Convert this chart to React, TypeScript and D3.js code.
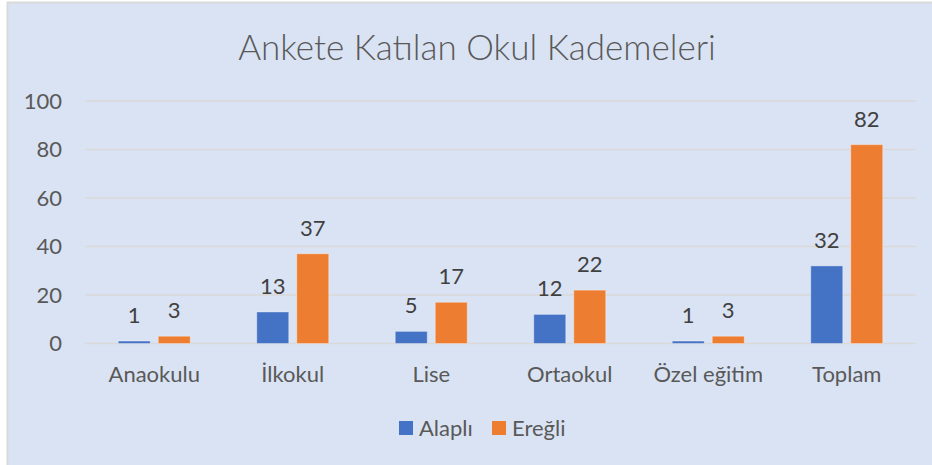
import React from "react";
import * as d3 from "d3";

const categories = ["Anaokulu", "İlkokul", "Lise", "Ortaokul", "Özel eğitim", "Toplam"];
const seriesNames = ["Alaplı", "Ereğli"];
const alapli = [1, 13, 5, 12, 1, 32];
const eregli = [3, 37, 17, 22, 3, 82];
const yTicks = [0, 20, 40, 60, 80, 100];
const colors = ["#4472c4", "#ed7d31"];
const title = "Ankete Katılan Okul Kademeleri";

const W = 932;
const H = 465;
const FONT = "Lato, 'Open Sans', sans-serif";
const TEXT = "#595959";

export default function App() {
  const x = d3.scaleBand<string>().domain(categories).range([85, 916]).paddingInner(0).paddingOuter(0);
  const y = d3.scaleLinear().domain([0, 100]).range([343.5, 101]);
  const bw = x.bandwidth();
  const xs = d3.scaleBand<string>().domain(seriesNames).range([bw / 2 - 36, bw / 2 + 36]).paddingInner(0.2).paddingOuter(0);
  const data = [alapli, eregli];

  return (
    <svg width={W} height={H} style={{ position: "absolute", left: 0, top: 0, display: "block" }} fontFamily={FONT}>
      <rect x={7.5} y={2.5} width={W + 10} height={H + 10} fill="#dae3f3" stroke="#d9d9d9" strokeWidth={2} />
      <text x={477} y={60} textAnchor="middle" fontSize={35} fontWeight={300} fill={TEXT}>{title}</text>
      {yTicks.map((t) => (
        <g key={t}>
          <line x1={85} x2={916} y1={y(t)} y2={y(t)} stroke="#d9d9d9" strokeWidth={1.5} />
          <text x={62} y={y(t)} dy="0.35em" textAnchor="end" fontSize={22} fill={TEXT}>{t}</text>
        </g>
      ))}
      {categories.map((c, i) => (
        <g key={c} transform={`translate(${x(c)},0)`}>
          {seriesNames.map((s, j) => {
            const v = data[j][i];
            const bx = xs(s)!;
            return (
              <g key={s}>
                <rect x={bx} y={y(v)} width={xs.bandwidth()} height={y(0) - y(v)} fill={colors[j]} stroke="#ffffff" strokeOpacity={0.35} strokeWidth={1} />
                <text x={bx + xs.bandwidth() / 2} y={y(v) - 18} textAnchor="middle" fontSize={22} fill="#404040">{v}</text>
              </g>
            );
          })}
          <text x={bw / 2} y={382} textAnchor="middle" fontSize={22} fill={TEXT}>{c}</text>
        </g>
      ))}
      {seriesNames.map((s, j) => {
        const lx = [399, 492][j];
        return (
          <g key={s}>
            <rect x={lx} y={421} width={14} height={14} fill={colors[j]} />
            <text x={lx + 20} y={436} fontSize={22} fill={TEXT}>{s}</text>
          </g>
        );
      })}
    </svg>
  );
}
